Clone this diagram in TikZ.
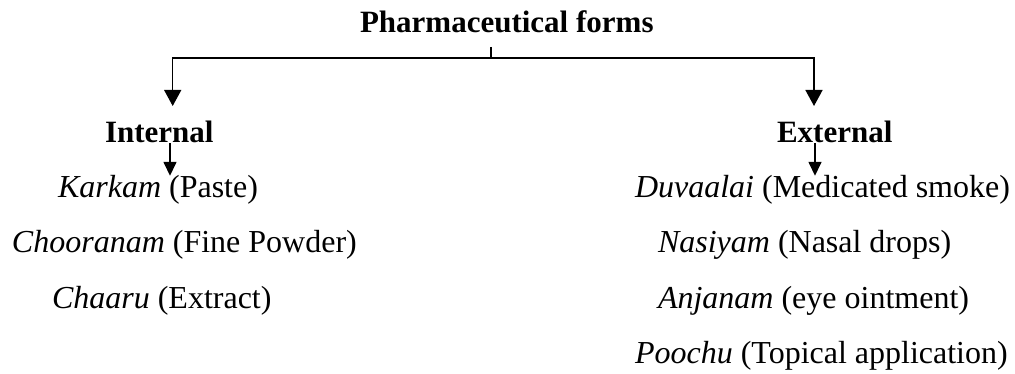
\documentclass[tikz,border=0pt]{standalone}
\usepackage{fontspec}
\setmainfont{Liberation Serif}
\usetikzlibrary{arrows.meta}
\begin{document}
\begin{tikzpicture}[x=1pt,y=1pt,
  lbl/.style={inner sep=0pt, outer sep=0pt, anchor=base west, font=\fontsize{32}{38}\selectfont},
  head/.style={inner sep=0pt, outer sep=0pt, anchor=base west, font=\fontsize{31}{37}\selectfont\bfseries},
  conn/.style={line width=1.5pt},
  bigarrow/.style={conn, -{Triangle[length=16pt,width=17pt]}},
  smallarrow/.style={conn, -{Triangle[length=14pt,width=13pt]}}]
\useasboundingbox (0,0) rectangle (1015,-374);
\node[head] (title) at (360,-33) {Pharmaceutical forms};
\node[head] (int) at (105,-143) {Internal};
\node[head] (ext) at (777,-143) {External};
\node[lbl] (karkam) at (58,-198) {\textit{Karkam} (Paste)};
\node[lbl] (choor) at (12,-253) {\textit{Chooranam} (Fine Powder)};
\node[lbl] (chaaru) at (52,-308) {\textit{Chaaru} (Extract)};
\node[lbl] (duva) at (635,-198) {\textit{Duvaalai} (Medicated smoke)};
\node[lbl] (nasi) at (658,-253) {\textit{Nasiyam} (Nasal drops)};
\node[lbl] (anja) at (658,-308) {\textit{Anjanam} (eye ointment)};
\node[lbl] (poochu) at (635,-363) {\textit{Poochu} (Topical application)};
\coordinate (stem) at (491,-47);
\coordinate (j) at (491,-58);
\coordinate (lt) at (172.7,-106);
\coordinate (rt) at (814,-106);
\coordinate (lx) at (170,0);
\coordinate (rx) at (815,0);
\draw[conn] (stem) -- (j);
\draw[bigarrow] (j) -| (lt);
\draw[bigarrow] (j) -| (rt);
\draw[smallarrow] (int.south -| lx) -- (karkam.north -| lx);
\draw[smallarrow] (ext.south -| rx) -- (duva.north -| rx);
\end{tikzpicture}
\end{document}
